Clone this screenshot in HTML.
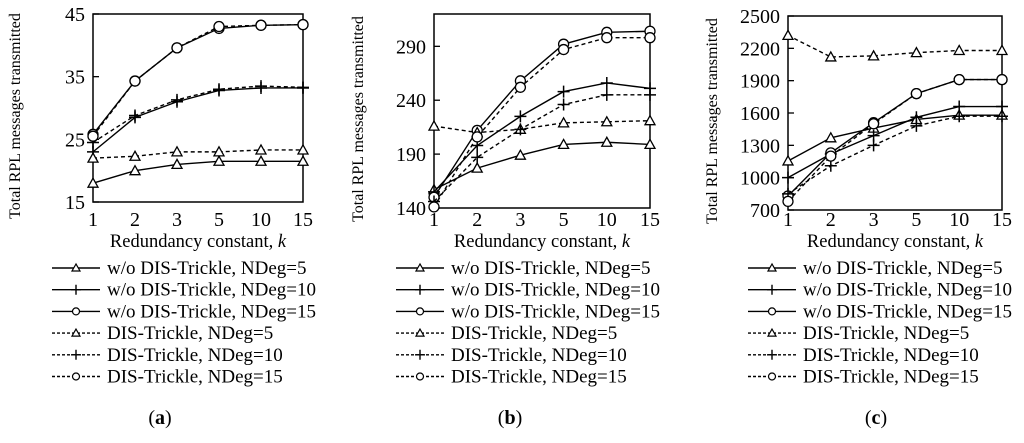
<!DOCTYPE html>
<html><head><meta charset="utf-8">
<style>
html,body{margin:0;padding:0;background:#fff;}
svg, svg text{font-family:"Liberation Serif","DejaVu Serif",serif;}
</style></head>
<body>
<svg id="fig" width="1024" height="438" viewBox="0 0 1024 438" xmlns="http://www.w3.org/2000/svg" font-family="Liberation Serif, DejaVu Serif, serif"></svg>
<script>
const categories = ["1","2","3","5","10","15"];
const seriesNames = ["w/o DIS-Trickle, NDeg=5","w/o DIS-Trickle, NDeg=10","w/o DIS-Trickle, NDeg=15","DIS-Trickle, NDeg=5","DIS-Trickle, NDeg=10","DIS-Trickle, NDeg=15"];
const seriesMarkers = ["tri","plus","circ","tri","plus","circ"];
const seriesDashed = [false,false,false,true,true,true];
// chart a
const aTicks = [15,25,35,45];
const aWo5 = [18,20,21,21.5,21.5,21.5];
const aWo10 = [23,28.5,31,32.8,33.2,33.2];
const aWo15 = [25.8,34.3,39.6,42.7,43.2,43.3];
const aDis5 = [22,22.3,23,23,23.3,23.3];
const aDis10 = [24.5,28.8,31.3,33,33.5,33.3];
const aDis15 = [25.5,34.3,39.6,43,43.2,43.3];
// chart b
const bTicks = [140,190,240,290];
const bWo5 = [157,177,189,199,201,199];
const bWo10 = [155,198,225,248,256,251];
const bWo15 = [150,212,258,292,303,304];
const bDis5 = [216,210,213,219,220,221];
const bDis10 = [146,187,213,236,245,245];
const bDis15 = [141,206,252,287,298,298];
// chart c
const cTicks = [700,1000,1300,1600,1900,2200,2500];
const cWo5 = [1155,1370,1460,1540,1580,1580];
const cWo10 = [1000,1220,1390,1560,1660,1660];
const cWo15 = [830,1230,1510,1780,1910,1910];
const cDis5 = [2320,2120,2130,2160,2180,2180];
const cDis10 = [850,1110,1300,1480,1570,1570];
const cDis15 = [780,1200,1500,1780,1910,1910];

const NS="http://www.w3.org/2000/svg";
const FF="Liberation Serif, DejaVu Serif, serif";
const fig=document.getElementById('fig');
function mk(tag,attrs,parent,text){const e=document.createElementNS(NS,tag);for(const k in attrs)e.setAttribute(k,attrs[k]);if(tag==='text')e.setAttribute('font-family',FF);if(text!==undefined)e.textContent=text;(parent||fig).appendChild(e);return e;}
function marker(g,type,x,y){
  if(type==="tri"){const m=mk('polygon',{points:`${x},${y-5} ${x-5},${y+4} ${x+5},${y+4}`,fill:'#fff',stroke:'#000','stroke-width':1.3},g);}
  else if(type==="circ"){const m=mk('circle',{cx:x,cy:y,r:5,fill:'#fff',stroke:'#000','stroke-width':1.3},g);}
  else {const m=mk('path',{d:`M${x-6},${y}H${x+6}M${x},${y-6}V${y+6}`,stroke:'#000','stroke-width':1.5},g);}
}
const charts=[
 {id:'a',x0:93,x1:303,y0:14,y1:202,min:15,max:45,ticks:aTicks,data:[aWo5,aWo10,aWo15,aDis5,aDis10,aDis15],ytx:15,legx:52,cap:160,title:"Total RPL messages transmitted"},
 {id:'b',x0:434,x1:650,y0:14,y1:208,min:140,max:320,ticks:bTicks,data:[bWo5,bWo10,bWo15,bDis5,bDis10,bDis15],ytx:358,legx:396,cap:510,title:"Total RPL messages transmitted"},
 {id:'c',x0:788,x1:1002,y0:16,y1:210,min:700,max:2500,ticks:cTicks,data:[cWo5,cWo10,cWo15,cDis5,cDis10,cDis15],ytx:712,legx:748,cap:876,title:"Total RPL messages transmitted"}
];
charts.forEach(c=>{
  const g=mk('g',{});
  
  
  const sx=i=>c.x0+i*(c.x1-c.x0)/(categories.length-1);
  const sy=v=>c.y1-(v-c.min)/(c.max-c.min)*(c.y1-c.y0);
  const box=mk('rect',{x:c.x0,y:c.y0,width:c.x1-c.x0,height:c.y1-c.y0,fill:'none',stroke:'#000','stroke-width':1.5},g);
  
  
  c.ticks.forEach(t=>{
    const y=sy(t);
    const tk=mk('line',{x1:c.x0,x2:c.x0+6,y1:y,y2:y,stroke:'#000','stroke-width':1.3},g);
    
    
    const tl=mk('text',{x:c.x0-8,y:y+7,'text-anchor':'end','font-size':20},g,String(t));
    
    
  });
  categories.forEach((cat,i)=>{
    const tl=mk('text',{x:sx(i),y:226,'text-anchor':'middle','font-size':20},g,cat);
    
    
  });
  const xt=mk('text',{x:(c.x0+c.x1)/2,y:247,'text-anchor':'middle','font-size':18.5},g);
  
  
  xt.appendChild(document.createTextNode('Redundancy constant, '));
  mk('tspan',{'font-style':'italic'},xt,'k');
  const yt=mk('text',{x:0,y:0,'text-anchor':'middle','font-size':16,transform:`translate(${c.ytx+5},${(c.y0+c.y1)/2+8}) rotate(-90)`},g,c.title);
  
  
  c.data.forEach((vals,s)=>{
    const pts=vals.map((v,i)=>sx(i)+','+sy(v)).join(' ');
    const pl=mk('polyline',{points:pts,fill:'none',stroke:'#000','stroke-width':1.4,'stroke-dasharray':seriesDashed[s]?'4,3':'none'},g);
    
    
    vals.forEach((v,i)=>marker(g,seriesMarkers[s],sx(i),sy(v)));
  });
  seriesNames.forEach((n,s)=>{
    const y=268+s*21.7;
    const lg=mk('g',{},g);
    
    
    mk('line',{x1:c.legx,x2:c.legx+48,y1:y,y2:y,stroke:'#000','stroke-width':1.4,'stroke-dasharray':seriesDashed[s]?'3,2':'none'},lg);
    const lx=c.legx+24;
    if(seriesMarkers[s]==="tri")mk('polygon',{points:`${lx},${y-4} ${lx-4},${y+3} ${lx+4},${y+3}`,fill:'#fff',stroke:'#000','stroke-width':1.2},lg);
    else if(seriesMarkers[s]==="circ")mk('circle',{cx:lx,cy:y,r:3.5,fill:'#fff',stroke:'#000','stroke-width':1.2},lg);
    else mk('path',{d:`M${lx-5},${y}H${lx+5}M${lx},${y-5}V${y+5}`,stroke:'#000','stroke-width':1.4},lg);
    mk('text',{x:c.legx+55,y:y+6,'font-size':19},lg,n);
  });
  const cap=mk('text',{x:c.cap,y:424,'text-anchor':'middle','font-size':20},g);
  
  
  cap.appendChild(document.createTextNode('('));
  mk('tspan',{'font-weight':'bold'},cap,c.id);
  cap.appendChild(document.createTextNode(')'));
});
</script>
</body></html>
